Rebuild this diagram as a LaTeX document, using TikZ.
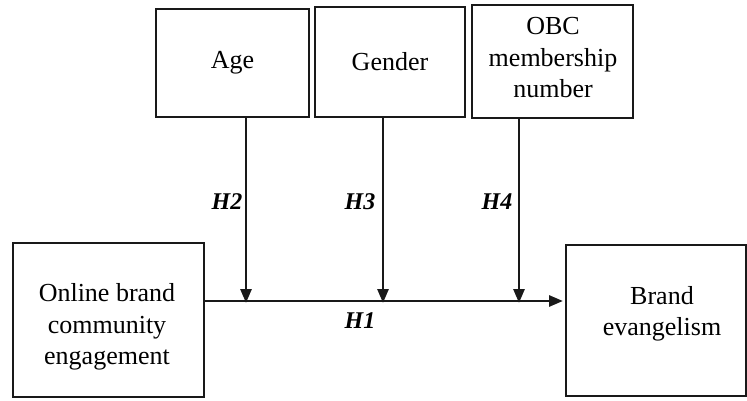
\documentclass[tikz,border=0pt]{standalone}
\usepackage{fontspec}
\setmainfont{Liberation Serif}
\usetikzlibrary{arrows.meta}
\begin{document}
\begin{tikzpicture}[x=1pt,y=-1pt,
  box/.style={draw=black!90, line width=2.6pt, minimum width=#1, inner sep=0pt, outer sep=0pt},
  boxtext/.style={align=center, inner sep=0pt, font=\fontsize{26}{31.5}\selectfont},
  hyp/.style={inner sep=0pt, font=\fontsize{24}{28}\selectfont\bfseries\itshape},
  link/.style={line width=2.8pt, draw=black!90, -{Triangle[length=14pt,width=11pt]}}
]
\useasboundingbox (0,0) rectangle (747,401);

% moderator boxes
\node[box=153pt, minimum height=108pt] (age) at (232.5,63) {};
\node[boxtext] (age-t) at (age.center) {Age};
\node[box=150pt, minimum height=110pt] (gender) at (390,62) {};
\node[boxtext] (gender-t) at (gender.center) {Gender};
\node[box=161pt, minimum height=113pt] (obc) at (552.5,61.5) {};
\node[boxtext] (obc-t) at (553,58) {OBC\\membership\\number};

% independent and dependent variables
\node[box=191pt, minimum height=154pt] (oce) at (108.5,320) {};
\node[boxtext] (oce-t) at (107,327) {Online brand\\community\\engagement};
\node[box=180pt, minimum height=151pt] (be) at (656,320.5) {};
\node[boxtext] (be-t) at (662,314) {Brand\\evangelism};

% main path and moderating effects
\coordinate (h1s) at (oce.east |- 0,301);
\coordinate (h1e) at (be.west |- 0,301);
\coordinate (m2) at (246,301);
\coordinate (m3) at (383,301);
\coordinate (m4) at (519,301);

\draw[link] (h1s) -- ([xshift=-3pt]h1e);
\draw[link] (age.south -| m2) -- ([yshift=-2pt]m2);
\draw[link] (gender.south -| m3) -- ([yshift=-2pt]m3);
\draw[link] (obc.south -| m4) -- ([yshift=-2pt]m4);

\node[hyp] (h1) at (360,321) {H1};
\node[hyp] (h2) at (227,202) {H2};
\node[hyp] (h3) at (360,202) {H3};
\node[hyp] (h4) at (497,202) {H4};
\end{tikzpicture}
\end{document}
